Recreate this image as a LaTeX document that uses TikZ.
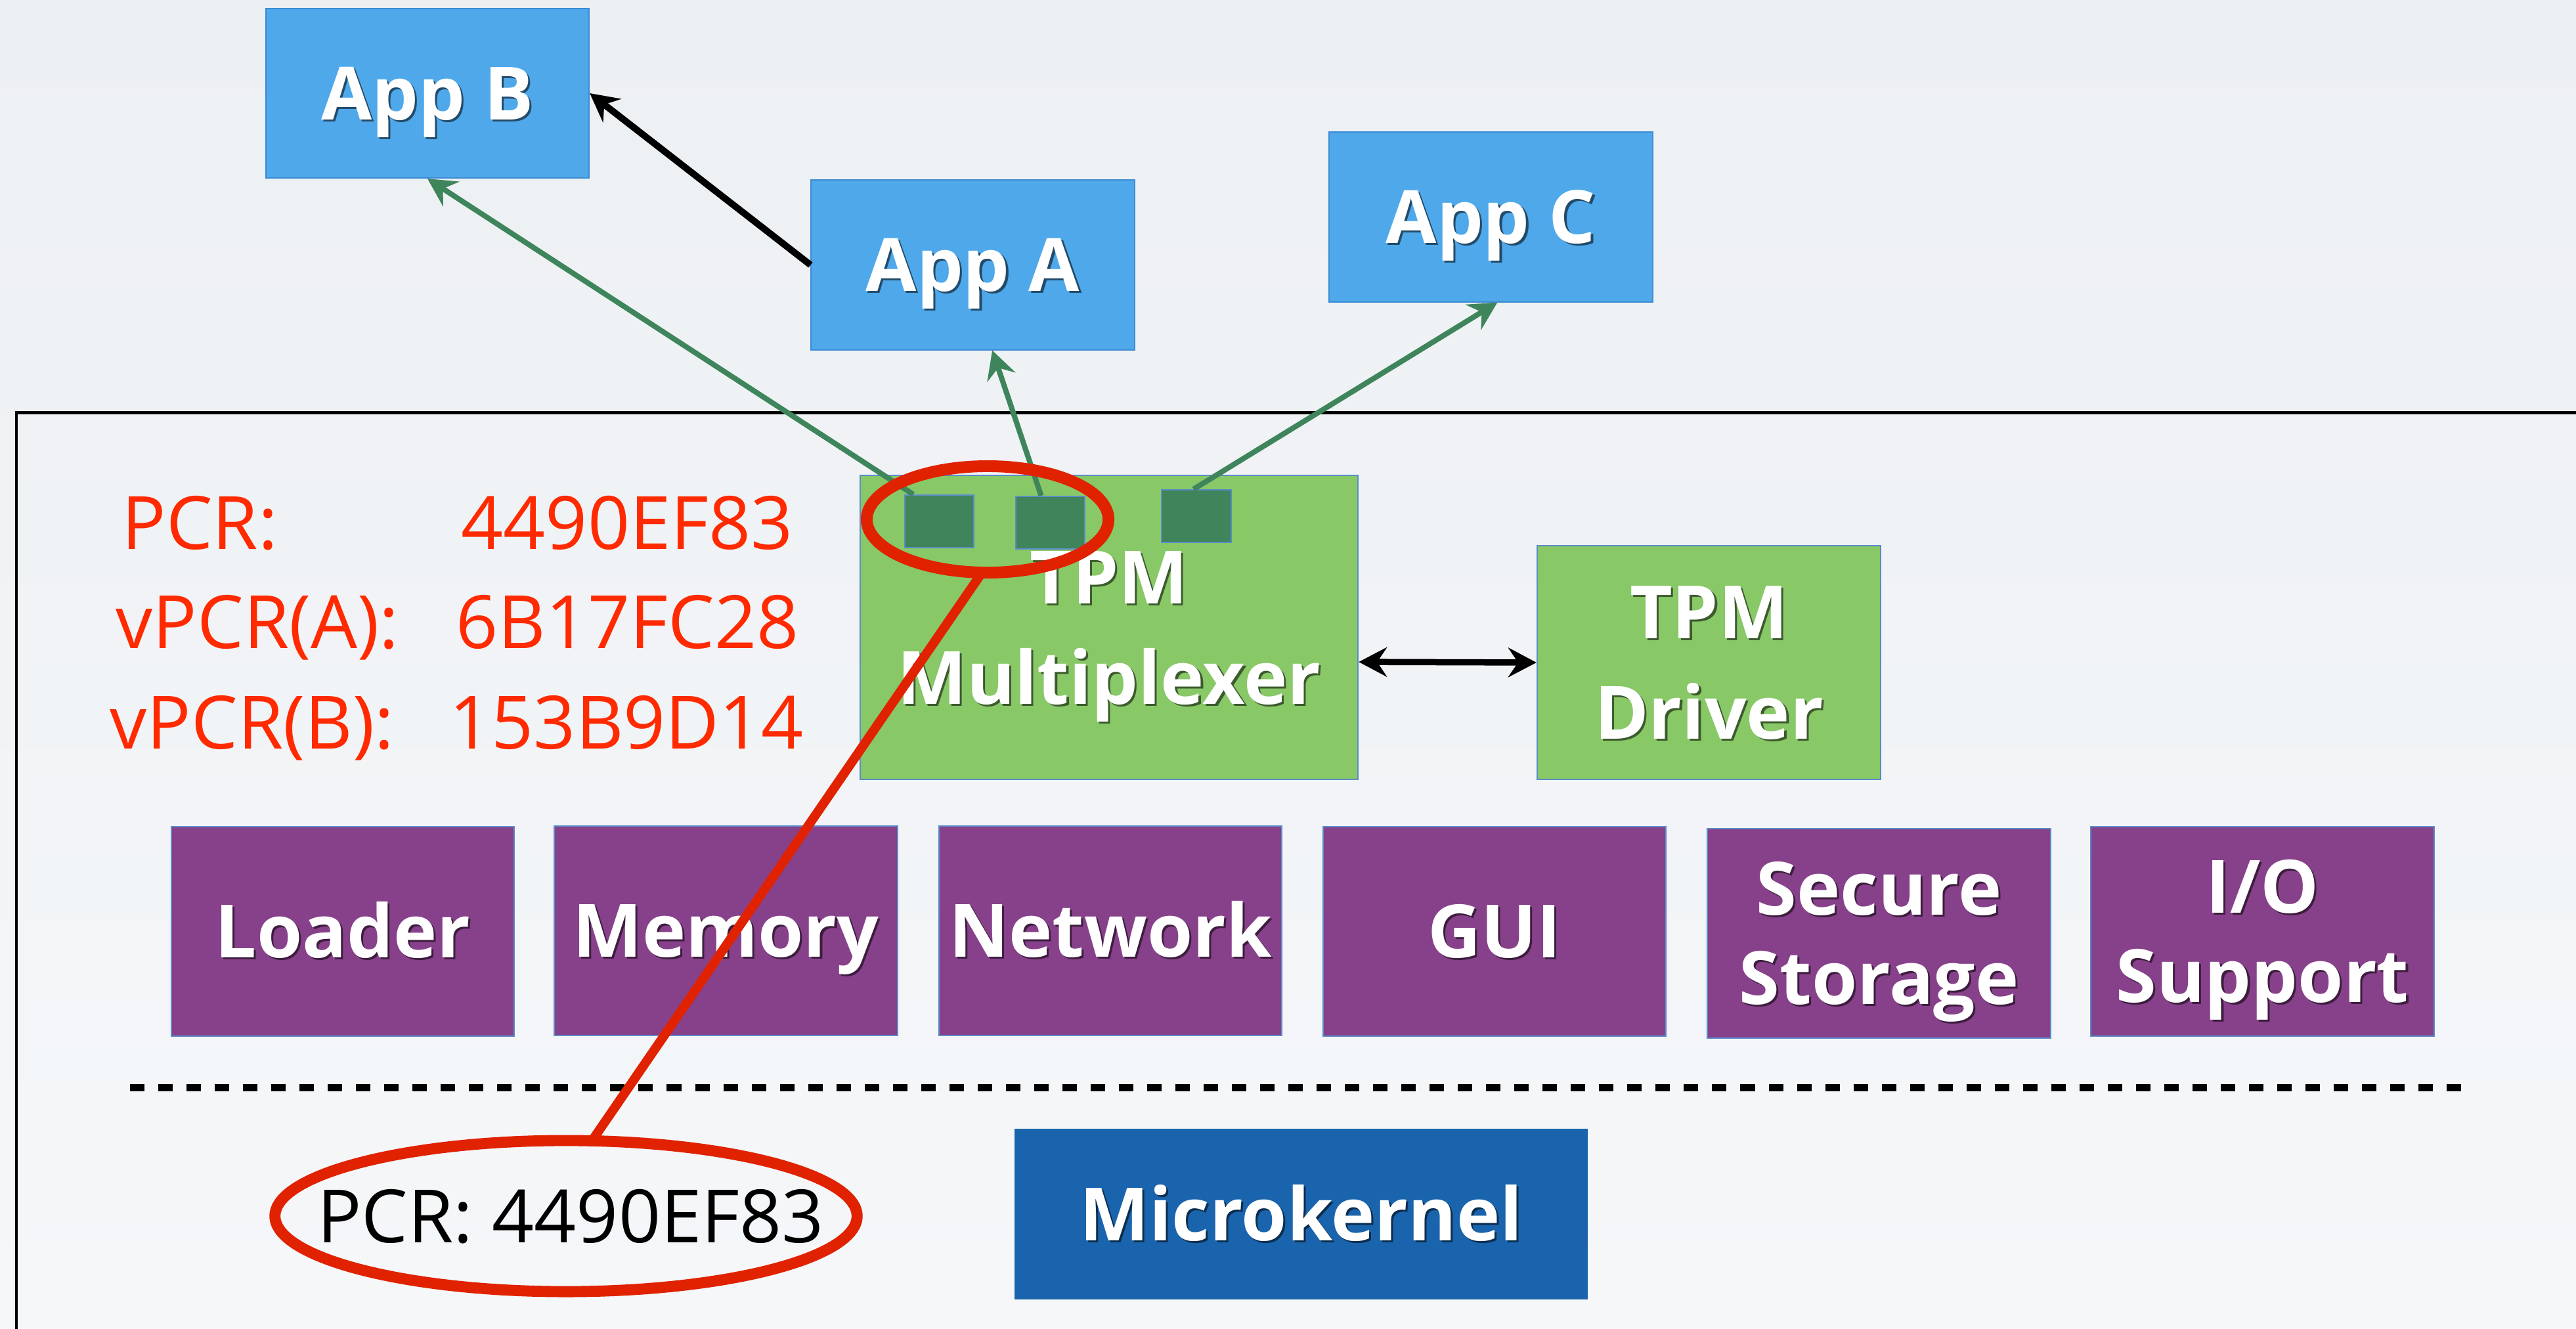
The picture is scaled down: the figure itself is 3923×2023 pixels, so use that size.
\documentclass[tikz,border=0pt]{standalone}
\usepackage{fontspec}
\setmainfont{Open Sans}
\usetikzlibrary{arrows.meta,calc,shapes.geometric}

\definecolor{bgtop}{HTML}{EDF0F3}
\definecolor{bgbot}{HTML}{F5F7F9}
\definecolor{appblue}{HTML}{4FA8EA}
\definecolor{appedge}{HTML}{3D8BD4}
\definecolor{tpmgreen}{HTML}{88C867}
\definecolor{slotgreen}{HTML}{3F845B}
\definecolor{linkgreen}{HTML}{3F855C}
\definecolor{svcpurple}{HTML}{87418A}
\definecolor{kernblue}{HTML}{1A64AD}
\definecolor{thinedge}{HTML}{5B8BC9}
\definecolor{redtext}{HTML}{FF2A00}
\definecolor{redmark}{HTML}{E02200}

% white label with a small dark drop shadow
\newcommand\shcol{black}
\newcommand\shtxt[1]{\leavevmode\rlap{\kern0.9pt\raisebox{-0.9pt}{\textcolor{\shcol}{#1}}}#1}
% two centred label lines with a fixed baseline distance
\newcommand\twolines[3]{\vbox{\baselineskip=#3\relax\lineskiplimit=-\maxdimen
  \halign{\hfil##\hfil\cr\shtxt{#1}\cr\shtxt{#2}\cr}}}

\tikzset{
  blk/.style={rectangle, inner sep=0pt, line width=0.57pt, text=white,
    text height=0.8cm, text depth=-0.08cm,
    font=\bfseries\fontsize{31.87pt}{43.53pt}\selectfont},
  app/.style={blk, fill=appblue, draw=appedge, minimum width=4.92cm,
    minimum height=2.58cm, execute at begin node=\def\shcol{appblue!45!black}},
  tpm/.style={blk, fill=tpmgreen, draw=thinedge, text height=2.33cm,
    execute at begin node=\def\shcol{tpmgreen!45!black}},
  svc/.style={blk, fill=svcpurple, draw=thinedge, minimum width=5.22cm,
    minimum height=3.19cm, execute at begin node=\def\shcol{svcpurple!45!black}},
  kern/.style={blk, fill=kernblue, draw=kernblue, minimum width=8.71cm,
    minimum height=2.58cm, execute at begin node=\def\shcol{kernblue!45!black}},
  slot/.style={rectangle, inner sep=0pt, fill=slotgreen, draw=thinedge,
    line width=0.57pt, minimum width=1.05cm, minimum height=0.8cm},
  ring/.style={ellipse, draw=redmark, inner sep=0pt, outer sep=0pt},
  pcrtext/.style={text=redtext, anchor=base west, inner sep=0pt,
    font=\fontsize{31.87pt}{43.53pt}\selectfont},
  linktip/.tip={Stealth[length=0.43cm, width=0.45cm, inset=0.15cm]},
  greenlink/.style={draw=linkgreen, line width=2.3pt, -{linktip}},
  blacklink/.style={draw=black, line width=2.9pt, -{linktip}},
  bothlink/.style={draw=black, line width=2.7pt, {linktip}-{linktip}},
}

\begin{document}
\begin{tikzpicture}[x=0.01cm, y=-0.01cm]
\useasboundingbox (0,0) rectangle (3923,2023);
\clip (0,0) rectangle (3923,2023);
\shade[top color=bgtop, bottom color=bgbot] (0,0) rectangle (3923,2023);

% system frame, open towards the right and the bottom
\draw[line width=1.42pt] (4000,628) -| (25,2100);

% applications
\node[app] (appB) at (651,142) {\shtxt{App B}};
\node[app] (appA) at (1481.5,403.5) {\shtxt{App A}};
\node[app] (appC) at (2270.5,330.5) {\shtxt{App C}};

% TPM components
\node[tpm, minimum width=7.58cm, minimum height=4.63cm] (mux) at (1689,955.5)
  {\twolines{TPM}{Multiplexer}{43.53pt}};
\node[tpm, minimum width=5.23cm, minimum height=3.56cm] (driver) at (2602.5,1009)
  {\twolines{TPM}{Driver}{43.53pt}};

% virtual PCR slots
\node[slot] (sq1) at (1430.5,794) {};
\node[slot] (sq2) at (1599.5,796) {};
\node[slot] (sq3) at (1822,786) {};

% services
\node[svc] (loader) at (522,1418.5) {\shtxt{Loader}};
\node[svc] (memory) at (1105.5,1417.5) {\shtxt{Memory}};
\node[svc] (network) at (1691,1417.5) {\shtxt{Network}};
\node[svc] (gui) at (2276,1418.5) {\shtxt{GUI}};
\node[svc, text height=2.16cm] (storage) at (2861.5,1421.5)
  {\twolines{Secure}{Storage}{38.7pt}};
\node[svc, text height=2.16cm] (io) at (3445.5,1418.5)
  {\twolines{I/O}{Support}{38.7pt}};

% kernel boundary
\draw[line width=3.13pt, dash pattern=on 0.22cm off 0.21cm] (198,1656) -- (3758,1656);
\node[kern] (kernel) at (1981.5,1849) {\shtxt{Microkernel}};

% register values
\node[pcrtext] (lblp)  at (185,836)  {PCR:};
\node[pcrtext] (valp)  at (702,836)  {4490EF83};
\node[pcrtext] (lbla)  at (176,987)  {vPCR(A):};
\node[pcrtext] (vala)  at (694,987)  {6B17FC28};
\node[pcrtext] (lblb)  at (167,1140) {vPCR(B):};
\node[pcrtext] (valb)  at (684,1140) {153B9D14};

% links
\draw[greenlink] ($(sq1.north west)!0.13!(sq1.north east)$) -- (appB.south);
\draw[greenlink] ($(sq2.north west)!0.37!(sq2.north east)$) --
  ($(appA.south west)!0.56!(appA.south east)$);
\draw[greenlink] ($(sq3.north west)!0.46!(sq3.north east)$) --
  ($(appC.south west)!0.52!(appC.south east)$);
\draw[blacklink] (appA.west) -- (appB.east);
\draw[bothlink] ($(mux.north east)!0.613!(mux.south east)$) -- (driver.west);

% highlight of the physical PCR
\node[ring, line width=5.1pt, minimum width=3.68cm, minimum height=1.62cm] (hl) at (1504,791) {};
\node[ring, line width=4.8pt, minimum width=8.86cm, minimum height=2.30cm,
  text height=0.8cm, text depth=-0.12cm,
  font=\fontsize{31.87pt}{43.53pt}\selectfont] (pcr) at (862,1852)
  {\makebox[0pt]{\kern0.14cm PCR: 4490EF83}};
\draw[redmark, line width=4pt] (hl.264) -- (pcr.71);
\end{tikzpicture}
\end{document}
